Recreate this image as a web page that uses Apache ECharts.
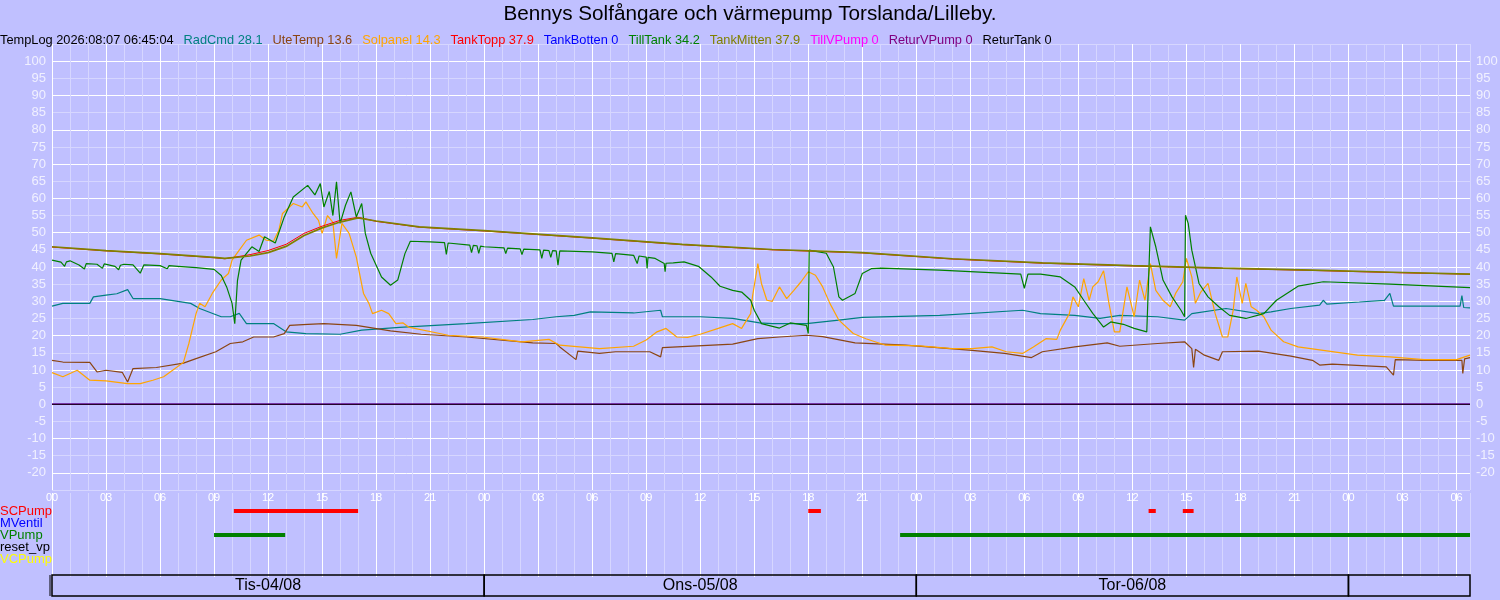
<!DOCTYPE html>
<html>
<head>
<meta charset="utf-8">
<script src="https://cdn.jsdelivr.net/npm/echarts@6/dist/echarts.min.js"></script>
<style>
html, body { margin: 0; padding: 0; background: #c0c0ff; }
#main { width: 1500px; height: 600px; }
</style>
</head>
<body>
<div id="main"></div>
<script>
// time is in hours from Tis-04/08 00:00, log ends 07/08 06:45
var tEnd = 78.75;

var chartTitle = 'Bennys Solfångare och värmepump Torslanda/Lilleby.';
var logStamp = 'TempLog 2026:08:07 06:45:04';
var seriesNames = ['RadCmd', 'UteTemp', 'Solpanel', 'TankTopp', 'TankBotten', 'TillTank', 'TankMitten', 'TillVPump', 'ReturVPump', 'ReturTank'];
var lastValues = ['28.1', '13.6', '14.3', '37.9', '0', '34.2', '37.9', '0', '0', '0'];

var dayLabels = ['Tis-04/08', 'Ons-05/08', 'Tor-06/08', ''];
var dayStart = [0, 24, 48, 72];
var dayEnd = [24, 48, 72, 78.75];

var pumpNames = ['SCPump', 'MVentil', 'VPump', 'reset_vp', 'VCPump'];
var scPumpOn = [[10.1, 17.0], [42.0, 42.7], [60.9, 61.3], [62.8, 63.4]];
var mVentilOn = [];
var vPumpOn = [[9.0, 12.95], [47.1, 78.75]];
var resetVpOn = [];
var vcPumpOn = [];

var radCmd = [[0,28.6],[0.6,29.4],[2.1,29.4],[2.3,31.3],[3,31.8],[3.6,32.2],[4.2,33.4],[4.5,30.8],[6,30.8],[7.7,29.4],[8.2,27.9],[9.4,25.5],[9.9,25.5],[10.4,26.5],[10.8,23.5],[12.3,23.5],[13,21.1],[14.1,20.6],[16,20.4],[17.2,21.6],[19.3,22.4],[23,23.5],[26.7,24.7],[28,25.5],[29,25.9],[29.9,26.9],[32.3,26.6],[33.8,27.4],[33.9,25.5],[36,25.5],[37.8,25.0],[39.3,23.7],[40,23.5],[41.9,23.5],[43.7,24.5],[45,25.3],[49.3,25.9],[53.9,27.4],[54.9,26.4],[56.8,25.9],[58.2,25.0],[59.3,25.9],[61.4,25.5],[62.9,24.5],[63.3,26.4],[65.2,27.9],[67,26.4],[67.7,26.9],[68.8,27.9],[70.4,28.9],[70.6,30.3],[70.8,29.2],[72.6,29.8],[74,30.3],[74.3,32.3],[74.5,28.6],[78.2,28.6],[78.3,31.7],[78.4,28.2],[78.75,28.1]];

var uteTemp = [[0,12.8],[0.6,12.3],[2.1,12.2],[2.5,9.4],[3,9.9],[3.9,9.3],[4.2,6.5],[4.5,10.4],[5.8,10.7],[7.3,12.0],[8,13.3],[9.1,15.3],[9.9,17.7],[10.6,18.2],[11.2,19.6],[12.3,19.6],[12.9,20.6],[13.2,23.0],[14.2,23.3],[15.1,23.5],[16.9,23.0],[18.8,21.4],[20.5,20.4],[23,19.6],[26.7,17.9],[28,17.7],[28.2,16.7],[29.1,13.0],[29.2,15.5],[30.4,14.8],[31.3,15.3],[33.2,15.3],[33.8,13.8],[33.9,16.5],[37.8,17.5],[39.2,19.1],[40.4,19.6],[41.9,20.1],[42.8,19.7],[44.6,17.9],[47.4,17.2],[51.1,15.7],[52.9,14.8],[54.4,13.6],[55,15.3],[56.8,16.7],[58.6,17.9],[59.3,16.9],[61.4,17.7],[62.9,18.2],[63.3,16.2],[63.4,10.7],[63.5,16.0],[64,14.3],[64.8,12.8],[65,15.3],[67,15.5],[68.8,14.0],[70,12.8],[70.4,11.4],[71.1,11.7],[74.1,10.9],[74.5,8.5],[74.6,13.0],[76.3,12.8],[78.3,12.8],[78.35,9.0],[78.45,13.2],[78.75,13.6]];

var solpanel = [[0,9.2],[0.6,8.0],[1.4,9.9],[2.1,7.0],[3,6.8],[4.2,6.0],[4.9,6.0],[5.6,7.0],[6.2,8.0],[6.7,9.9],[7.3,12.2],[7.6,17.7],[8.0,26.4],[8.2,29.4],[8.5,28.4],[8.9,32.3],[9.4,36.2],[9.8,38.1],[10,42.0],[10.4,44.9],[10.8,47.8],[11.5,49.3],[11.9,47.8],[12.3,47.5],[12.6,50.7],[12.8,55.6],[13.4,58.5],[13.9,57.5],[14.1,59.0],[14.5,55.6],[14.8,53.6],[15,49.8],[15.3,55],[15.6,53.0],[15.8,42.5],[16.1,52.7],[16.5,49.8],[16.9,42.9],[17.3,32.3],[17.6,29.4],[17.8,26.4],[18.3,27.4],[18.7,26.4],[19.1,23.5],[19.5,23.7],[19.8,22.5],[22,20.1],[23.9,19.6],[26.1,18.2],[27.6,18.9],[28.2,17.2],[30.4,16.2],[32.3,16.9],[33,18.7],[33.6,21.1],[34.1,22.1],[34.7,19.6],[35.3,19.5],[36,20.4],[37,22.1],[37.8,23.5],[38.3,22.1],[38.8,26.4],[38.9,31.3],[39.2,41.0],[39.4,35.2],[39.7,30.3],[40,30.0],[40.4,34.2],[40.8,30.8],[41.2,33.2],[41.6,35.7],[42,38.6],[42.4,37.6],[42.8,34.2],[43.2,29.4],[43.7,24.5],[44.5,20.6],[45.2,19.1],[46.3,17.2],[48.2,17.0],[50,16.2],[51.1,16.2],[52.2,16.7],[53,15.3],[53.9,14.8],[54.5,16.7],[55.2,19.1],[55.8,18.9],[56,21.6],[56.5,26.4],[56.7,31.3],[57,28.4],[57.3,36.6],[57.6,30.3],[57.8,34.2],[58.1,35.7],[58.4,38.9],[58.7,29.4],[59,21.1],[59.3,21.1],[59.7,34.2],[60.1,25.5],[60.4,36.2],[60.7,30.3],[61,41.0],[61.3,33.2],[61.7,30.3],[62.1,28.4],[62.4,32.3],[62.8,35.7],[63,42.5],[63.3,37.1],[63.5,29.4],[63.8,32.7],[64.2,35.2],[64.6,26.4],[65,19.6],[65.3,19.6],[65.6,27.4],[65.8,37.1],[66.1,29.4],[66.3,35.2],[66.6,28.4],[66.9,27.4],[67.3,25.5],[67.7,21.6],[68.4,18.2],[69.2,16.7],[70.6,15.7],[72.5,14.3],[74.3,13.8],[76.2,13.0],[78,13.0],[78.75,14.3]];

var tankTopp = [[0,45.8],[3,44.7],[6,43.8],[9,42.7],[9.6,42.4],[11,43.6],[12,44.8],[13,46.6],[14,49.8],[15,51.9],[16,53.6],[17,54.5],[18,53.3],[20.4,51.6],[24,50.5],[30,48.4],[35,46.5],[40,45.0],[45,44.1],[50,42.3],[55,41.1],[60,40.3],[65,39.6],[70,39.0],[75,38.3],[78.75,37.9]];

var tankMitten = [[0,45.9],[3,44.8],[6,43.9],[9,42.8],[9.6,42.5],[11,43.2],[12,44.2],[13,46.0],[14,49.2],[15,51.4],[16,53.1],[17,54.3],[18,53.4],[20.4,51.7],[24,50.6],[30,48.5],[35,46.6],[40,45.1],[45,44.2],[50,42.4],[55,41.2],[60,40.4],[65,39.7],[70,39.1],[75,38.4],[78.75,37.9]];

var tillTank = [[0,42.0],[0.5,41.4],[0.7,40.2],[0.8,41.5],[1,41.8],[1.5,40.6],[1.8,39.4],[1.9,41.0],[2,41.2],[2.5,40.8],[2.8,39.6],[2.9,40.9],[3,41.0],[3.5,40.2],[3.7,39.2],[3.8,40.5],[4,40.8],[4.5,40.6],[4.9,38.2],[5.1,40.6],[6,40.4],[6.4,39.5],[6.5,40.4],[7,40.2],[8,39.8],[9,39.3],[9.4,37.5],[9.7,34.2],[10.0,29.4],[10.15,23.5],[10.3,36],[10.5,42],[11.1,45.9],[11.5,44.5],[11.8,48.8],[12.4,47],[12.9,54.6],[13.4,60.4],[14.2,63.8],[14.6,61],[14.9,64.3],[15.1,57.5],[15.4,62],[15.6,55],[15.8,64.8],[16.0,52.7],[16.3,58],[16.6,61.9],[16.9,54.6],[17.2,58.5],[17.4,49.8],[17.7,44],[18.3,37.1],[18.8,34.7],[19.2,36.2],[19.6,43.9],[19.9,47.5],[21,47.3],[21.8,47.1],[21.9,43.7],[22.0,47.0],[23.2,46.4],[23.3,44.2],[23.4,46.3],[23.6,46.2],[23.7,44.0],[23.8,46.1],[24,45.9],[25.1,45.6],[25.2,43.9],[25.3,45.5],[26,45.3],[26.1,43.6],[26.2,45.2],[27.1,45.0],[27.2,42.5],[27.3,44.9],[27.6,44.8],[27.7,42.8],[27.8,44.8],[28,44.7],[28.1,40.5],[28.2,44.7],[30,44.4],[31.1,44.0],[31.2,41.5],[31.3,43.9],[31.4,43.9],[32.3,43.4],[32.5,41.0],[32.6,43.2],[33,42.9],[33.05,39.6],[33.1,42.8],[33.5,42.5],[34,41],[34.05,38.6],[34.1,41.1],[34.5,41.2],[35.1,41.5],[35.9,40.2],[36.6,37.1],[37.1,34.4],[37.8,33.2],[38.3,32.7],[38.8,30.3],[39,27.4],[39.4,23.5],[40.4,22.2],[41,23.7],[41.9,23.0],[42.0,20.6],[42.05,44.9],[42.5,44.5],[43.0,44],[43.4,40],[43.7,31.3],[43.9,30.3],[44.6,32.3],[45.0,38.1],[45.5,39.5],[46.1,39.7],[49.3,39.1],[53.8,37.9],[54.0,33.8],[54.2,37.9],[54.9,37.9],[56,37.1],[56.8,34.2],[57.3,30.3],[57.8,26.5],[58.4,22.5],[58.8,24.0],[59.5,23.3],[60.1,22.1],[60.8,21.1],[61.0,51.7],[61.3,45.9],[61.7,36.2],[62.2,31.3],[62.7,27.4],[62.9,25.5],[62.95,55.1],[63.1,52.7],[63.3,44.9],[63.7,35.2],[64.2,31.3],[64.8,28.4],[65.4,25.9],[66.3,25.0],[67.3,26.4],[68.0,30.3],[69.2,34.4],[70.6,35.7],[74.3,35.0],[78.75,34.0]];

var tankBotten = [[0,0],[78.75,0]];
var tillVPump = [[0,0],[78.75,0]];
var returVPump = [[0,0],[78.75,0]];
var returTank = [[0,0],[78.75,0]];

var seriesData = [radCmd, uteTemp, solpanel, tankTopp, tankBotten, tillTank, tankMitten, tillVPump, returVPump, returTank];
var seriesColors = ['#008080', '#8b4513', '#ffa500', '#ff0000', '#0000ff', '#008000', '#808000', '#ff00ff', '#800080', '#000000'];
var seriesWidths = [1.2, 1.2, 1.2, 1, 1, 1.2, 1.7, 1, 1, 1.2];
var pumpColors = ['#ff0000', '#0000ff', '#008000', '#000000', '#ffff00'];
var font = 'Liberation Sans, Arial, sans-serif';

var myChart = echarts.init(document.getElementById('main'));

// legend row as rich text
var rich = { k: { color: '#000', fontSize: 12.8, fontWeight: 'normal', fontFamily: font } };
var legendText = '{k|' + logStamp + '}';
seriesNames.forEach(function (n, i) {
  rich['s' + i] = { color: seriesColors[i], fontSize: 12.8, fontWeight: 'normal', fontFamily: font };
  legendText += '  {s' + i + '|' + n + ' ' + lastValues[i] + '}';
});

var pumpRich = {};
pumpNames.forEach(function (n, i) {
  pumpRich['p' + i] = { color: pumpColors[i], fontSize: 13, fontFamily: font };
});

function pad2(v) {
  var h = Math.round(v) % 24;
  return h < 10 ? '0' + h : '' + h;
}

var hourLines = { lineStyle: { color: ['#ffffff', '#d6d6ff', '#d6d6ff'], width: 1 } };

function barItem(color) {
  return function (params, api) {
    var a = api.coord([api.value(0), api.value(2)]);
    var b = api.coord([api.value(1), api.value(2)]);
    return { type: 'rect', shape: { x: a[0], y: a[1] - 2, width: b[0] - a[0], height: 4 }, style: { fill: color } };
  };
}

var pumpSets = [scPumpOn, mVentilOn, vPumpOn, resetVpOn, vcPumpOn];

var series = seriesNames.map(function (n, i) {
  return {
    name: n,
    type: 'line',
    xAxisIndex: 0,
    yAxisIndex: 0,
    data: seriesData[i],
    showSymbol: false,
    symbol: 'none',
    lineStyle: { width: seriesWidths[i], color: seriesColors[i] },
    itemStyle: { color: seriesColors[i] },
    z: 3 + i * 0.1
  };
});

pumpSets.forEach(function (set, i) {
  series.push({
    name: pumpNames[i],
    type: 'custom',
    xAxisIndex: 1,
    yAxisIndex: 2,
    renderItem: barItem(pumpColors[i]),
    encode: { x: [0, 1], y: 2 },
    data: set.map(function (p) { return [p[0], p[1], pumpNames[i]]; }),
    z: 4
  });
});

series.push({
  name: 'days',
  type: 'custom',
  xAxisIndex: 2,
  yAxisIndex: 3,
  encode: { x: [0, 1], y: 2 },
  data: dayStart.map(function (s, i) { return [s, dayEnd[i], 0.5]; }),
  renderItem: function (params, api) {
    var a = api.coord([api.value(0), 1]);
    var b = api.coord([api.value(1), 0]);
    var kids = [
      { type: 'rect', shape: { x: a[0], y: a[1], width: b[0] - a[0], height: b[1] - a[1] },
        style: { fill: 'none', stroke: '#000', lineWidth: 1.5 } },
      { type: 'text', style: { text: dayLabels[params.dataIndex], x: (a[0] + b[0]) / 2, y: (a[1] + b[1]) / 2,
        align: 'center', verticalAlign: 'middle', fontSize: 16, fill: '#000', fontFamily: font } }
    ];
    if (params.dataIndex === 0) {
      kids.push({ type: 'line', shape: { x1: a[0] - 2, y1: a[1], x2: a[0] - 2, y2: b[1] }, style: { stroke: '#000', lineWidth: 1 } });
    }
    return { type: 'group', children: kids };
  },
  z: 5
});

var yLabel = {
  formatter: function (v) { return (v < -20 || v > 100) ? '' : v; },
  color: '#f0f0ff',
  fontSize: 13,
  fontFamily: font,
  margin: 6
};

var gridBase = { left: 52, right: 30, outerBoundsMode: 'none', containLabel: false };

myChart.setOption({
  backgroundColor: '#c0c0ff',
  animation: false,
  textStyle: { fontFamily: font },
  title: [
    { text: chartTitle, left: 'center', top: -1, textStyle: { fontSize: 20.7, fontWeight: 'normal', color: '#000', fontFamily: font } },
    { text: legendText, left: 0, top: 31, padding: 0, textStyle: { fontWeight: 'normal', rich: rich } }
  ],
  grid: [
    Object.assign({ top: 44, height: 446 }, gridBase),
    Object.assign({ top: 493, height: 84 }, gridBase),
    Object.assign({ top: 575, height: 21 }, gridBase)
  ],
  xAxis: [
    {
      gridIndex: 0, type: 'value', min: 0, max: tEnd, interval: 1,
      axisLine: { show: false }, axisTick: { show: false },
      axisLabel: {
        formatter: function (v) { return (Math.abs(v % 3) < 1e-6) ? pad2(v) : ''; },
        color: '#ffffff', fontSize: 11, margin: 2, fontFamily: font, showMaxLabel: false
      },
      splitLine: hourLines
    },
    {
      gridIndex: 1, type: 'value', min: 0, max: tEnd, interval: 1,
      axisLine: { show: false }, axisTick: { show: false }, axisLabel: { show: false },
      splitLine: hourLines
    },
    { gridIndex: 2, type: 'value', min: 0, max: tEnd, show: false }
  ],
  yAxis: [
    {
      gridIndex: 0, type: 'value', min: -25, max: 105, interval: 5,
      axisLine: { show: false }, axisTick: { show: false },
      axisLabel: yLabel,
      splitLine: { lineStyle: { color: ['#d6d6ff', '#ffffff'], width: 1 } }
    },
    {
      gridIndex: 0, type: 'value', position: 'right', min: -25, max: 105, interval: 5,
      axisLine: { show: false }, axisTick: { show: false },
      axisLabel: yLabel, splitLine: { show: false }
    },
    {
      gridIndex: 1, type: 'category', inverse: true,
      data: [''].concat(pumpNames).concat([' ']),
      axisLine: { show: false }, axisTick: { show: false }, splitLine: { show: false },
      axisLabel: {
        align: 'left', margin: 52, interval: 0,
        formatter: function (v) {
          var i = pumpNames.indexOf(v);
          return i < 0 ? '' : '{p' + i + '|' + v + '}';
        },
        rich: pumpRich
      }
    },
    { gridIndex: 2, type: 'value', min: 0, max: 1, show: false }
  ],
  series: series
});
</script>
</body>
</html>
